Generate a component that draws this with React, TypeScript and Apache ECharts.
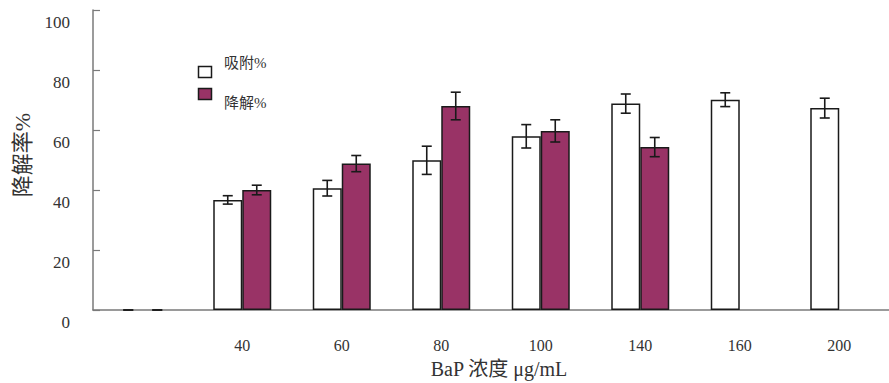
import React, { useEffect, useRef } from "react";
import * as echarts from "echarts";

const categories = ["", "40", "60", "80", "100", "140", "160", "200"];
const adsorption = [0, 36.7, 40.6, 49.9, 57.9, 68.8, 70.1, 67.3];
const adsorptionErr = [0, 1.4, 2.6, 4.7, 3.9, 3.2, 2.3, 3.3];
const degradation: (number | null)[] = [0, 40.0, 48.8, 68.0, 59.7, 54.3, null, null];
const degradationErr: (number | null)[] = [0, 1.6, 2.7, 4.6, 3.7, 3.2, null, null];
const yTicks = [0, 20, 40, 60, 80, 100];

const SERIF = "'Liberation Serif', 'Noto Sans CJK SC', serif";
const MAROON = "#993366";
const BAR_W = 29;

function errorSeries(values: (number | null)[], errs: (number | null)[], offset: number) {
  const data = values
    .map((v, i) => (v === null || errs[i] === null ? null : [i, v, errs[i]]))
    .filter((d) => d !== null);
  return {
    type: "custom",
    z: 10,
    encode: { x: 0, y: 1 },
    data,
    renderItem: (params: any, api: any) => {
      const x = api.value(0);
      const v = api.value(1);
      const e = api.value(2);
      const hi = api.coord([x, v + e]);
      const lo = api.coord([x, v - e]);
      const cx = hi[0] + offset;
      const style = { stroke: "#1a1a1a", lineWidth: 1.6 };
      return {
        type: "group",
        children: [
          { type: "line", shape: { x1: cx, y1: hi[1], x2: cx, y2: lo[1] }, style },
          { type: "line", shape: { x1: cx - 5, y1: hi[1], x2: cx + 5, y2: hi[1] }, style },
          { type: "line", shape: { x1: cx - 5, y1: lo[1], x2: cx + 5, y2: lo[1] }, style },
        ],
      };
    },
  };
}

export default function App() {
  const ref = useRef<HTMLDivElement>(null);
  useEffect(() => {
    if (!ref.current) return;
    const chart = echarts.init(ref.current, null, { renderer: "svg" });
    chart.setOption({
      animation: false,
      backgroundColor: "#ffffff",
      grid: { left: 93, top: 10, right: -8, bottom: 73 },
      xAxis: {
        type: "category",
        data: categories,
        boundaryGap: true,
        axisLine: { lineStyle: { color: "#7a7a7a", width: 1.5 } },
        axisTick: { inside: true, length: 5, lineStyle: { color: "#7a7a7a", width: 1.2 } },
        axisLabel: { margin: 27, fontFamily: SERIF, fontSize: 16, color: "#333" },
      },
      yAxis: {
        type: "value",
        min: 0,
        max: 100,
        interval: 20,
        splitLine: { show: false },
        axisLine: { show: true, lineStyle: { color: "#7a7a7a", width: 1.5 } },
        axisTick: { show: true, inside: true, length: 7, lineStyle: { color: "#7a7a7a", width: 1.2 } },
        axisLabel: {
          margin: 23,
          fontFamily: SERIF,
          fontSize: 17,
          color: "#333",
          verticalAlign: "top",
          padding: [4, 0, 0, 0],
          formatter: (v: number) => (yTicks.includes(v) ? String(v) : ""),
        },
      },
      series: [
        {
          type: "bar",
          name: "吸附%",
          data: adsorption.map((v, i) => (i === 0 ? "-" : v)),
          barWidth: BAR_W,
          barGap: "0%",
          itemStyle: { color: "#ffffff", borderColor: "#1a1a1a", borderWidth: 1.5 },
        },
        {
          type: "bar",
          name: "降解%",
          data: degradation.map((v, i) => (i === 0 || v === null ? "-" : v)),
          barWidth: BAR_W,
          barGap: "0%",
          itemStyle: { color: MAROON, borderColor: "#1a1a1a", borderWidth: 1.5 },
        },
        errorSeries(adsorption, adsorptionErr, -BAR_W / 2),
        errorSeries(degradation, degradationErr, BAR_W / 2),
      ],
      graphic: [
        { type: "rect", shape: { x: 198.5, y: 66.5, width: 13, height: 11 }, style: { fill: "#fff", stroke: "#1a1a1a", lineWidth: 1.5 } },
        { type: "rect", shape: { x: 198.5, y: 88.5, width: 13, height: 11 }, style: { fill: MAROON, stroke: "#1a1a1a", lineWidth: 1.5 } },
        { type: "text", x: 224, y: 63, style: { text: "吸附%", font: `15px ${SERIF}`, fill: "#333", verticalAlign: "middle" } },
        { type: "text", x: 224, y: 103, style: { text: "降解%", font: `15px ${SERIF}`, fill: "#333", verticalAlign: "middle" } },
        { type: "text", x: 499, y: 369, style: { text: "BaP 浓度 μg/mL", font: `20px ${SERIF}`, fill: "#333", align: "center", verticalAlign: "middle" } },
        { type: "text", x: 22, y: 155, rotation: Math.PI / 2, style: { text: "降解率%", font: `22px ${SERIF}`, fill: "#333", align: "center", verticalAlign: "middle" } },
      ],
    });
    return () => chart.dispose();
  }, []);
  return (
    <div
      ref={ref}
      style={{ position: "fixed", left: 0, top: 0, width: 889, height: 383, background: "#fff" }}
    />
  );
}
